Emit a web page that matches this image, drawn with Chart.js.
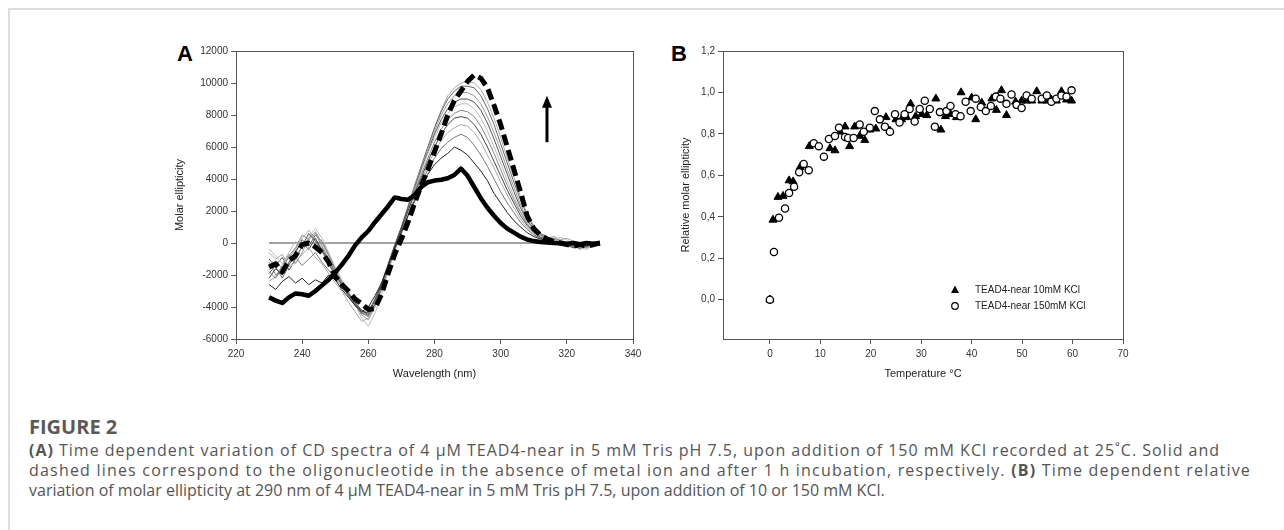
<!DOCTYPE html>
<html>
<head>
<meta charset="utf-8">
<script src="https://cdn.jsdelivr.net/npm/chart.js@4.4.0/dist/chart.umd.min.js"></script>
<style>
  body { margin: 0; width: 1284px; height: 530px; background: #fff; position: relative; overflow: hidden; }
  .frame-top { position: absolute; left: 9px; top: 8px; width: 1275px; height: 2px; background: #dcdcdc; }
  .frame-left { position: absolute; left: 8px; top: 8px; width: 2px; height: 522px; background: #dcdcdc; }
  .letter { position: absolute; font: bold 22px/22px "Liberation Sans", Arial, sans-serif; color: #000; }
  .panel { position: absolute; top: 30px; height: 351px; }
  #panelA { left: 169px; width: 484px; }
  #panelB { left: 675px; width: 468px; }
  .caption { position: absolute; left: 29px; font-family: "Open Sans", "Noto Sans", sans-serif; color: #555; white-space: nowrap; }
  .fig-title { top: 416px; font-size: 20px; font-weight: bold; line-height: 22px; color: #5a5a5a; }
  .fig-text { top: 440px; font-size: 16px; line-height: 20px; }
  .fig-text b { font-weight: bold; }
</style>
</head>
<body>
<div class="frame-top"></div>
<div class="frame-left"></div>
<div class="letter" style="left:177px;top:43px">A</div>
<div class="letter" style="left:671px;top:43px">B</div>
<div class="panel" id="panelA"><canvas id="cdChart"></canvas></div>
<div class="panel" id="panelB"><canvas id="kineticsChart"></canvas></div>
<div class="caption fig-title">FIGURE 2</div>
<div class="caption fig-text" id="figText">
<div><span class="capLine"><b>(A)</b> Time dependent variation of CD spectra of 4 μM TEAD4-near in 5 mM Tris pH 7.5, upon addition of 150 mM KCl recorded at 25˚C. Solid and</span></div>
<div><span class="capLine">dashed lines correspond to the oligonucleotide in the absence of metal ion and after 1 h incubation, respectively. <b>(B)</b> Time dependent relative</span></div>
<div><span class="capLine">variation of molar ellipticity at 290 nm of 4 μM TEAD4-near in 5 mM Tris pH 7.5, upon addition of 10 or 150 mM KCl.</span></div>
</div>
<script>
// ---- Panel A: CD spectra ----
const wavelengths = [230,232,234,236,238,240,242,244,246,248,250,252,254,256,258,260,262,264,266,268,270,272,274,276,278,280,282,284,286,288,290,292,294,296,298,300,302,304,306,308,310,312,314,316,318,320,322,324,326,328,330];

// solid line: no metal ion
const spectrumNoMetal = [-3400,-3600,-3750,-3400,-3150,-3200,-3300,-3000,-2650,-2300,-1850,-1350,-800,-150,350,750,1300,1800,2300,2850,2750,2700,3000,3500,3800,3900,3950,4050,4250,4650,4200,3500,2800,2200,1700,1250,900,650,400,220,120,60,30,0,-20,-50,0,-80,0,-40,0];
// dashed line: after 1 h
const spectrumOneHour = [-1500,-1300,-1800,-1100,-800,-100,0,-250,-600,-1200,-2100,-2600,-3000,-3500,-3800,-4150,-4100,-3200,-1900,-700,250,1300,2500,3600,4600,5700,6800,8000,8900,9500,10100,10500,10300,9700,8600,7400,6000,4600,3200,1700,900,500,250,100,0,-100,-200,-100,-200,-100,0];

// intermediate scans
const scan1 = [-2600,-2900,-2400,-2100,-2500,-2200,-2600,-2300,-2500,-2000,-2300,-2900,-3400,-3900,-4300,-4000,-3300,-2500,-1400,-300,700,1700,2600,3500,4300,4900,5300,5600,6000,5800,5500,5000,4500,3900,3100,2500,1900,1400,1000,650,400,250,150,100,0,-100,100,-50,-150,0,-50];
const scan2 = [-1800,-2200,-1500,-1300,-900,-1400,-1000,-600,-1200,-1700,-2200,-2700,-3300,-3900,-4400,-4500,-3800,-2800,-1600,-400,600,1700,2700,3700,4600,5300,5900,6300,6600,6800,6600,6100,5500,4800,4000,3200,2500,1900,1300,850,500,300,150,50,100,-100,-250,0,-200,50,0];
const scan3 = [-600,-1000,-700,-1500,-1200,-700,-300,-900,-1300,-1900,-2500,-3000,-3700,-4300,-4900,-4700,-3900,-2900,-1700,-500,600,1800,2900,3900,4900,5700,6400,6900,7200,7400,7300,6900,6300,5500,4700,3800,3000,2200,1500,950,550,300,200,100,200,300,100,-100,-300,-100,0];
const scan4 = [-2200,-1600,-2000,-1200,-500,0,-400,300,-500,-1300,-2000,-2600,-3200,-3800,-4200,-4400,-3600,-2600,-1400,-200,900,2000,3100,4100,5100,6000,6800,7400,7800,7900,7800,7400,6800,6000,5100,4200,3300,2500,1700,1100,650,350,200,100,0,-150,-300,-100,-250,-50,0];
const scan5 = [-1200,-2000,-1700,-800,-300,500,200,600,-200,-1000,-1800,-2500,-3100,-3700,-4300,-4600,-3900,-2900,-1600,-400,800,2000,3200,4300,5300,6300,7100,7700,8100,8300,8200,7900,7300,6500,5600,4600,3600,2700,1900,1200,700,400,250,300,150,0,-200,-350,-100,-200,-50];
const scan6 = [-400,-800,-1300,-600,100,-300,400,900,300,-600,-1500,-2300,-3000,-3800,-4700,-5200,-4400,-3200,-1800,-500,700,2000,3300,4500,5600,6600,7500,8100,8500,8700,8700,8400,7800,7000,6000,5000,3900,2900,2000,1300,800,450,300,150,350,200,-100,-300,-400,-150,0];
const scan7 = [-1900,-1400,-900,-1700,-1000,-200,600,100,-400,-1100,-1900,-2600,-3300,-3900,-4400,-4300,-3500,-2500,-1300,-100,1000,2200,3400,4600,5700,6800,7700,8400,8800,9000,9000,8800,8300,7500,6500,5400,4300,3200,2200,1400,850,500,300,150,50,-100,-250,-150,-300,-100,0];
const scan8 = [-2400,-2100,-1400,-700,-1300,-600,300,700,0,-800,-1700,-2400,-3100,-3800,-4500,-4800,-4000,-2900,-1600,-300,900,2200,3500,4700,5900,7000,8000,8700,9200,9400,9400,9200,8700,7900,6900,5800,4600,3500,2400,1500,900,550,300,400,200,0,-150,-400,-200,-250,-50];
const scan9 = [-1000,-1500,-2200,-1400,-600,200,-200,500,100,-700,-1600,-2400,-3100,-3700,-4200,-4500,-3800,-2700,-1400,-200,1000,2300,3600,4800,6000,7200,8200,9000,9500,9800,9800,9700,9200,8400,7400,6200,5000,3800,2700,1700,1000,600,350,200,100,-50,-200,-100,-250,0,0];
const scan10 = [-1700,-1100,-1600,-900,-400,300,800,200,-300,-1000,-1800,-2500,-3200,-3900,-4400,-4600,-3900,-2800,-1500,-300,900,2200,3500,4800,6000,7200,8300,9200,9700,10000,10100,10000,9600,8800,7800,6600,5300,4100,2900,1800,1100,600,400,200,100,0,-150,-250,-150,-100,0];
const intermediateScans = [scan1, scan2, scan3, scan4, scan5, scan6, scan7, scan8, scan9, scan10];
const scanColors = ['#222','#777','#aaa','#444','#888','#bbb','#555','#999','#666','#aaa'];

const cdXTicks = [220,240,260,280,300,320,340];
const cdYTicks = [-6000,-4000,-2000,0,2000,4000,6000,8000,10000,12000];
const baselineRange = [230, 330];
const arrowMark = { x: 314, from: 6300, to: 9200 };

// ---- Panel B: relative molar ellipticity vs time ----
const tempsLow = [0,0.6,1.6,2.6,3.8,4.6,6.0,7.8,11.9,12.9,13.9,14.9,15.8,16.8,17.8,18.8,19.8,21.0,23.0,23.8,25.0,26.1,27.1,27.9,28.9,30.1,31.1,32.9,33.9,34.8,35.8,37.0,37.9,40.0,40.8,42.0,44.0,44.9,45.9,46.9,48.7,49.9,50.9,51.9,52.9,53.9,54.9,55.8,56.8,57.8,58.8,59.8];
const valuesLow = [0,0.385,0.495,0.50,0.575,0.57,0.64,0.74,0.73,0.72,0.81,0.835,0.74,0.835,0.79,0.77,0.82,0.825,0.88,0.815,0.87,0.87,0.88,0.945,0.885,0.895,0.89,0.97,0.82,0.885,0.895,0.88,1.00,0.975,0.87,0.95,0.97,0.915,1.01,0.89,0.955,0.96,0.96,0.96,1.005,0.96,0.96,0.965,0.96,1.005,0.965,0.96];
const tempsHigh = [0,0.8,1.8,3.0,3.8,4.8,5.8,6.7,7.7,8.7,9.7,10.7,11.7,12.9,13.7,14.9,15.5,16.6,17.8,18.6,19.8,20.8,21.8,22.8,23.8,24.8,25.7,26.7,27.7,28.7,29.7,30.7,31.7,32.7,33.7,35.0,35.8,36.8,37.8,38.8,39.8,40.8,41.8,42.8,43.8,44.8,45.7,46.9,47.9,48.9,49.9,50.9,51.9,53.9,54.9,55.8,56.8,57.8,58.8,59.8];
const valuesHigh = [0,0.23,0.395,0.44,0.515,0.545,0.615,0.655,0.625,0.755,0.74,0.69,0.775,0.79,0.83,0.785,0.78,0.78,0.845,0.81,0.83,0.91,0.87,0.835,0.81,0.895,0.855,0.895,0.92,0.86,0.92,0.96,0.92,0.835,0.905,0.91,0.935,0.895,0.885,0.955,0.91,0.97,0.93,0.91,0.935,0.98,0.97,0.945,0.99,0.94,0.925,0.985,0.97,0.97,0.985,0.955,0.97,0.985,0.98,1.01];
const seriesLabels = ['TEAD4-near 10mM KCl', 'TEAD4-near 150mM KCl'];
const tempXTicks = [0,10,20,30,40,50,60,70];
const relYTicks = [0,0.2,0.4,0.6,0.8,1.0,1.2];

const FONT = 'Liberation Sans, Arial, sans-serif';
const toPoints = (xs, ys) => xs.map((x, i) => ({ x: x, y: ys[i] }));
const setTicks = list => scale => { scale.ticks = list.map(v => ({ value: v })); };

function axis(extra) {
  return Object.assign({
    type: 'linear',
    grid: { drawOnChartArea: false, drawTicks: true, tickLength: 5, color: '#555', lineWidth: 1 },
    border: { display: true, color: '#555', width: 1 }
  }, extra);
}
const tickStyle = extra => Object.assign({ font: { family: FONT, size: 10 }, color: '#333', maxRotation: 0, autoSkip: false }, extra);

// box round the plot area
const framePlugin = {
  id: 'frame',
  afterDraw(chart) {
    const { ctx, chartArea: a } = chart;
    ctx.save();
    ctx.strokeStyle = '#555';
    ctx.lineWidth = 1;
    ctx.strokeRect(Math.round(a.left) + 0.5, Math.round(a.top) + 0.5, Math.round(a.width), Math.round(a.height));
    ctx.restore();
  }
};

const arrowPlugin = {
  id: 'arrow',
  afterDatasetsDraw(chart) {
    const { ctx, scales } = chart;
    const x = scales.x.getPixelForValue(arrowMark.x);
    const yBottom = scales.y.getPixelForValue(arrowMark.from);
    const yTip = scales.y.getPixelForValue(arrowMark.to);
    ctx.save();
    ctx.strokeStyle = '#000';
    ctx.lineWidth = 3;
    ctx.beginPath();
    ctx.moveTo(x, yBottom);
    ctx.lineTo(x, yTip + 10);
    ctx.stroke();
    ctx.fillStyle = '#000';
    ctx.beginPath();
    ctx.moveTo(x, yTip);
    ctx.lineTo(x - 5, yTip + 12);
    ctx.lineTo(x + 5, yTip + 12);
    ctx.closePath();
    ctx.fill();
    ctx.restore();
  }
};

const cdDatasets = [
  { data: toPoints(wavelengths, spectrumOneHour), borderColor: '#000', borderWidth: 5, borderDash: [11, 5] },
  { data: toPoints(wavelengths, spectrumNoMetal), borderColor: '#000', borderWidth: 4.5 }
].concat(intermediateScans.map((s, i) => ({
  data: toPoints(wavelengths, s), borderColor: scanColors[i], borderWidth: 1
}))).concat([
  { data: toPoints(baselineRange, [0, 0]), borderColor: '#444', borderWidth: 1 }
]);

new Chart(document.getElementById('cdChart'), {
  type: 'line',
  data: { datasets: cdDatasets },
  options: {
    responsive: true,
    maintainAspectRatio: false,
    animation: false,
    layout: { padding: { top: 21, right: 20, bottom: 0, left: 0 } },
    elements: { point: { radius: 0 }, line: { tension: 0, borderJoinStyle: 'round' } },
    plugins: { legend: { display: false }, tooltip: { enabled: false } },
    scales: {
      x: axis({
        min: 220, max: 340,
        afterBuildTicks: setTicks(cdXTicks),
        afterFit: s => { s.height = 42; },
        ticks: tickStyle({ padding: 4 }),
        title: { display: true, text: 'Wavelength (nm)', font: { family: FONT, size: 11 }, color: '#222', padding: { top: 0, bottom: 0 } }
      }),
      y: axis({
        min: -6000, max: 12000,
        afterBuildTicks: setTicks(cdYTicks),
        afterFit: s => { s.width = 67; },
        ticks: tickStyle({ callback: v => String(v) }),
        title: { display: true, text: 'Molar ellipticity', font: { family: FONT, size: 11 }, color: '#222', padding: { top: 4, bottom: 0 } }
      })
    }
  },
  plugins: [framePlugin, arrowPlugin]
});

// legend drawn inside the plot, lower right
const legendPlugin = {
  id: 'innerLegend',
  afterDraw(chart) {
    const { ctx, chartArea: a } = chart;
    const sx = a.left + 232, tx = a.left + 252;
    const rows = [a.top + 239, a.top + 255];
    ctx.save();
    ctx.font = '10px ' + FONT;
    ctx.textBaseline = 'middle';
    // filled triangle
    ctx.beginPath();
    ctx.moveTo(sx, rows[0] - 4.5);
    ctx.lineTo(sx + 4, rows[0] + 3);
    ctx.lineTo(sx - 4, rows[0] + 3);
    ctx.closePath();
    ctx.fillStyle = '#000';
    ctx.fill();
    // open circle
    ctx.beginPath();
    ctx.arc(sx, rows[1], 3.3, 0, Math.PI * 2);
    ctx.lineWidth = 1.2;
    ctx.strokeStyle = '#000';
    ctx.stroke();
    ctx.fillStyle = '#222';
    ctx.fillText(seriesLabels[0], tx, rows[0]);
    ctx.fillText(seriesLabels[1], tx, rows[1]);
    ctx.restore();
  }
};

new Chart(document.getElementById('kineticsChart'), {
  type: 'scatter',
  data: {
    datasets: [
      { label: seriesLabels[1], data: toPoints(tempsHigh, valuesHigh), pointStyle: 'circle', pointRadius: 3.6,
        backgroundColor: '#fff', borderColor: '#000', borderWidth: 1.3 },
      { label: seriesLabels[0], data: toPoints(tempsLow, valuesLow), pointStyle: 'triangle', pointRadius: 4.6,
        backgroundColor: '#000', borderColor: '#000', borderWidth: 1 }
    ]
  },
  options: {
    responsive: true,
    maintainAspectRatio: false,
    animation: false,
    layout: { padding: { top: 21, right: 20, bottom: 0, left: 0 } },
    plugins: { legend: { display: false }, tooltip: { enabled: false } },
    scales: {
      x: axis({
        min: -9.3, max: 70,
        afterBuildTicks: setTicks(tempXTicks),
        afterFit: s => { s.height = 42; },
        ticks: tickStyle({ padding: 4 }),
        title: { display: true, text: 'Temperature °C', font: { family: FONT, size: 11 }, color: '#222', padding: { top: 0, bottom: 0 } }
      }),
      y: axis({
        min: -0.19, max: 1.2,
        afterBuildTicks: setTicks(relYTicks),
        afterFit: s => { s.width = 48; },
        ticks: tickStyle({ callback: v => v.toFixed(1).replace('.', ',') }),
        title: { display: true, text: 'Relative molar ellipticity', font: { family: FONT, size: 11 }, color: '#222', padding: { top: 4, bottom: 0 } }
      })
    }
  },
  plugins: [framePlugin, legendPlugin]
});

// caption lines 1 and 2 end where they do in the figure; line 3 keeps its natural width
const captionEnds = [1220, 1251];
document.querySelectorAll('.capLine').forEach((span, i) => {
  if (i >= captionEnds.length) return;
  const r = span.getBoundingClientRect();
  const n = span.textContent.length;
  span.style.letterSpacing = ((captionEnds[i] - r.right) / n).toFixed(3) + 'px';
});
</script>
</body>
</html>
